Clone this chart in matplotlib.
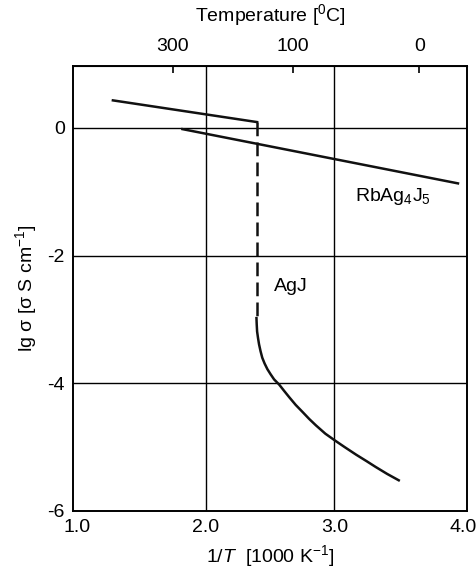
import numpy as np
import matplotlib.pyplot as plt

plt.rcParams['font.family'] = ['Liberation Sans', 'DejaVu Sans']
plt.rcParams['mathtext.fontset'] = 'custom'
plt.rcParams['mathtext.rm'] = 'Liberation Sans'
plt.rcParams['mathtext.it'] = 'Liberation Sans:italic'
plt.rcParams['axes.unicode_minus'] = False

# AgJ, high temperature phase
agj_hi_x = [1.28, 2.40]
agj_hi_y = [0.43, 0.09]
# AgJ, phase transition (dashed)
agj_tr_x = [2.40, 2.40]
agj_tr_y = [0.09, -2.98]
# AgJ, low temperature phase
agj_lo_x = [2.395, 2.397, 2.40, 2.407, 2.415, 2.427, 2.44, 2.458, 2.48, 2.505, 2.532,
            2.571, 2.61, 2.65, 2.70, 2.753, 2.805, 2.857, 2.93, 3.0, 3.08, 3.17,
            3.25, 3.32, 3.41, 3.50]
agj_lo_y = [-2.98, -3.08, -3.19, -3.29, -3.39, -3.50, -3.60, -3.69, -3.78, -3.86, -3.94,
            -4.02, -4.12, -4.22, -4.34, -4.45, -4.56, -4.66, -4.79, -4.89, -5.00, -5.12,
            -5.22, -5.31, -5.42, -5.52]
# RbAg4J5
rb_x = [1.82, 3.96]
rb_y = [-0.02, -0.87]

xticks = [1.0, 2.0, 3.0, 4.0]
yticks = [0, -2, -4, -6]
temp_ticks = [300, 100, 0]

fig = plt.figure(figsize=(4.77, 5.78), dpi=100)
ax = fig.add_axes([0.153, 0.116, 0.826, 0.770])

for x in [2.0, 3.0]:
    ax.axvline(x, color='black', lw=1.0, zorder=1)
for y in [0, -2, -4]:
    ax.axhline(y, color='black', lw=1.0, zorder=1)

ax.plot(agj_hi_x, agj_hi_y, color='#111111', lw=1.8, zorder=3)
ax.plot(agj_tr_x, agj_tr_y, color='#111111', lw=1.8, dashes=(5.5, 2.5), zorder=3)
ax.plot(agj_lo_x, agj_lo_y, color='#111111', lw=1.8, zorder=3, solid_joinstyle='round')
ax.plot(rb_x, rb_y, color='#111111', lw=1.8, zorder=3)

ax.text(3.16, -1.15, r'RbAg$_4$J$_5$', fontsize=14)
ax.text(2.53, -2.55, 'AgJ', fontsize=14)

ax.set_xlim(0.97, 4.03)
ax.set_ylim(-6, 0.97)
ax.set_xticks(xticks)
ax.set_xticklabels(['%.1f' % v for v in xticks])
ax.set_yticks(yticks)
ax.tick_params(length=0, labelsize=14, pad=6)
for s in ax.spines.values():
    s.set_linewidth(1.4)

ax.set_xlabel(r'1/$\it{T}$  [1000 K$^{-1}$]', fontsize=14, labelpad=5)
ax.set_ylabel(r'lg σ [σ S cm$^{-1}$]', fontsize=14, labelpad=6)

top = ax.secondary_xaxis('top', functions=(lambda x: 1000.0 / np.asarray(x) - 273.15,
                                           lambda t: 1000.0 / (np.asarray(t) + 273.15)))
top.set_xticks(temp_ticks)
top.tick_params(direction='in', length=5, width=1.2, labelsize=14, pad=8)
top.set_xlabel(r'Temperature [$^{0}$C]', fontsize=14, labelpad=12)

fig.savefig('out.png', dpi=100)
